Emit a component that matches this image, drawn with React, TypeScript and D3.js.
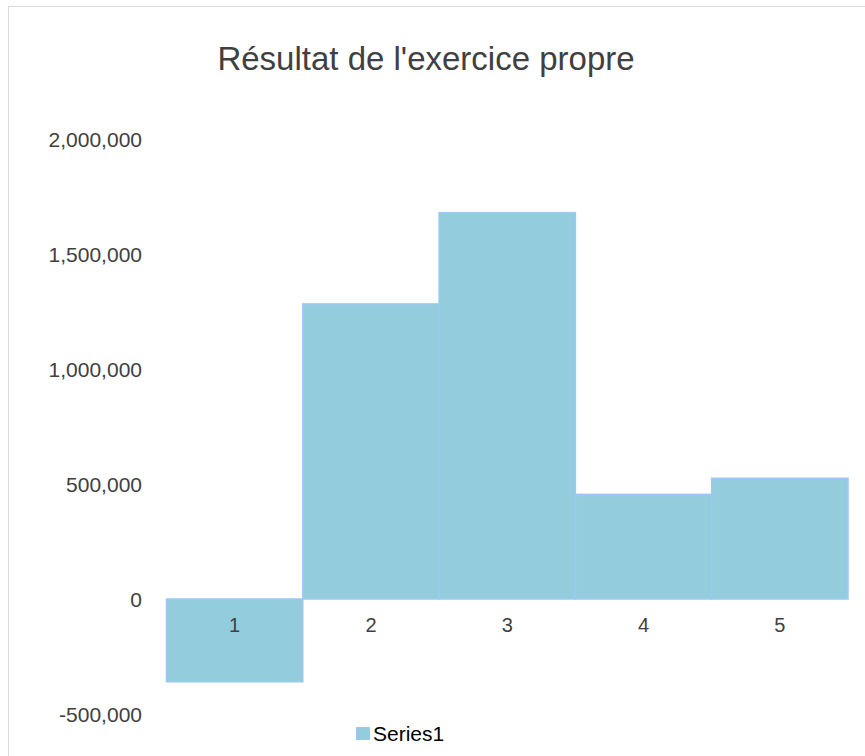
import React from "react";
import * as d3 from "d3";

const categories = ["1", "2", "3", "4", "5"];
const values = [-360000, 1283000, 1680000, 455000, 525000];
const yTicks = [-500000, 0, 500000, 1000000, 1500000, 2000000];
const title = "Résultat de l'exercice propre";
const seriesName = "Series1";

export default function App() {
  const W = 865, H = 756;
  const x = d3.scaleBand<string>().domain(categories).range([166.5, 848]).padding(0);
  const y = d3.scaleLinear().domain([-500000, 2000000]).range([714, 139]);
  const fmt = (v: number) => d3.format(",")(v).replace("\u2212", "-");
  const font = "'Liberation Sans', Arial, sans-serif";
  return (
    <svg width={W} height={H} style={{ position: "absolute", left: 0, top: 0, background: "#fff" }}>
      <rect x={8.5} y={6.5} width={W + 10} height={H + 10} fill="#fff" stroke="#d9d9d9" strokeWidth={1} />
      <text x={426} y={70} textAnchor="middle" fontFamily={font} fontSize={33} fill="#404040">{title}</text>
      {yTicks.map((t) => (
        <text key={t} x={142} y={y(t) + 7.5} textAnchor="end" fontFamily={font} fontSize={21} fill="#404040">{fmt(t)}</text>
      ))}
      {categories.map((c, i) => {
        const v = values[i];
        const y0 = y(Math.max(0, v));
        const y1 = y(Math.min(0, v));
        return (
          <rect key={c} x={x(c)!} y={y0} width={x.bandwidth()} height={y1 - y0}
            fill="#93CDDD" stroke="#9DC8F5" strokeWidth={1.5} />
        );
      })}
      {categories.map((c) => (
        <text key={"l" + c} x={x(c)! + x.bandwidth() / 2} y={632} textAnchor="middle" fontFamily={font} fontSize={20} fill="#404040">{c}</text>
      ))}
      <rect x={356.5} y={727.5} width={13} height={12} fill="#93CDDD" stroke="#9DC8F5" strokeWidth={1} />
      <text x={373} y={741} fontFamily={font} fontSize={21} fill="#000">{seriesName}</text>
    </svg>
  );
}
